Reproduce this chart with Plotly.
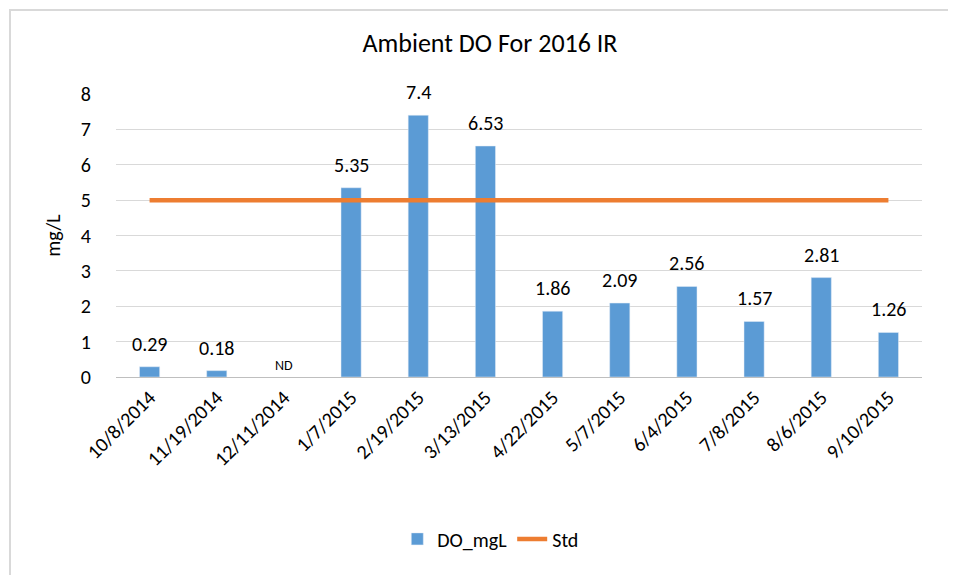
import plotly.graph_objects as go

dates = ["10/8/2014", "11/19/2014", "12/11/2014", "1/7/2015", "2/19/2015", "3/13/2015",
         "4/22/2015", "5/7/2015", "6/4/2015", "7/8/2015", "8/6/2015", "9/10/2015"]
do_mgl = [0.29, 0.18, None, 5.35, 7.4, 6.53, 1.86, 2.09, 2.56, 1.57, 2.81, 1.26]
std = [5] * len(dates)
labels = ["0.29", "0.18", "ND", "5.35", "7.4", "6.53", "1.86", "2.09", "2.56", "1.57", "2.81", "1.26"]
y_ticks = [0, 1, 2, 3, 4, 5, 6, 7, 8]

FONT = "Calibri, Carlito, 'Liberation Sans Narrow', 'DejaVu Sans Condensed', sans-serif"

fig = go.Figure()
fig.add_trace(go.Bar(x=dates, y=do_mgl, name="DO_mgL", marker_color="#5B9BD5", width=0.3))
fig.add_trace(go.Scatter(x=dates, y=std, name="Std", mode="lines",
                         line=dict(color="#ED7D31", width=4.5)))

annotations = []
for d, v, lab in zip(dates, do_mgl, labels):
    nd = v is None
    annotations.append(dict(x=d, y=0 if nd else v, xref="x", yref="y", text=lab,
                            showarrow=False, yanchor="bottom",
                            yshift=1 if nd else 9,
                            font=dict(size=14 if nd else 20, family=FONT, color="#000000")))

# chart border box, larger than the figure so only its left and top edges show
annotations.insert(0, dict(xref="paper", yref="paper", x=-0.1328, y=1.3004,
                           xanchor="left", yanchor="top", text=" ", showarrow=False,
                           width=1200, height=800, bordercolor="#D9D9D9", borderwidth=2,
                           borderpad=0))

fig.update_layout(
    width=956, height=575,
    paper_bgcolor="white", plot_bgcolor="white",
    margin=dict(l=108, r=42, t=86, b=206),
    font=dict(family=FONT, color="#000000", size=20),
    title=dict(text="Ambient DO For 2016 IR", xref="paper", x=0.464, xanchor="center",
               yref="container", y=0.94, yanchor="middle",
               font=dict(size=26, family=FONT, color="#000000")),
    showlegend=True,
    legend=dict(orientation="h", x=0.465, xanchor="center", y=-0.572, yanchor="middle",
                font=dict(size=20, family=FONT), traceorder="normal"),
    annotations=annotations,
)
fig.update_xaxes(tickangle=-45, showgrid=False, showline=True, linecolor="#BFBFBF",
                 ticks="", tickfont=dict(size=20, family=FONT))
fig.update_yaxes(range=[0, 8], tickvals=y_ticks, showgrid=True, gridcolor="#D9D9D9",
                 zeroline=False, ticks="", ticklabelstandoff=24,
                 title=dict(text="mg/L", font=dict(size=20, family=FONT), standoff=14),
                 tickfont=dict(size=20, family=FONT))

fig.write_html("out.html")
